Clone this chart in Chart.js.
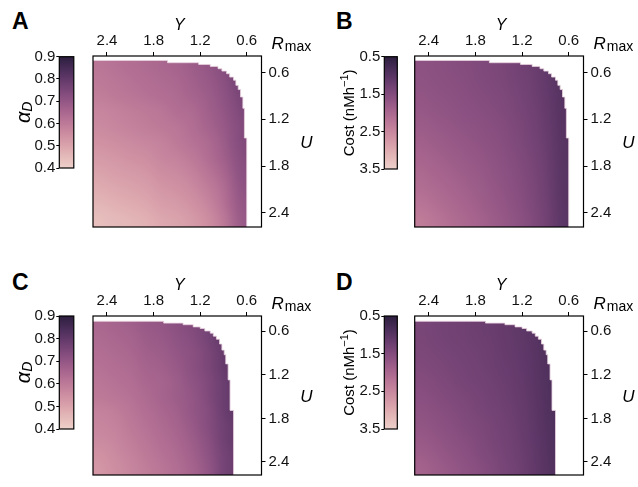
<!DOCTYPE html>
<html>
<head>
<meta charset="utf-8">
<script src="https://cdn.jsdelivr.net/npm/chart.js@4/dist/chart.umd.min.js"></script>
<style>
  body { margin: 0; background: #fff; }
  #wrap { position: relative; width: 638px; height: 487px; overflow: hidden; }
  canvas { position: absolute; }
  .lbl { position: absolute; font: bold 23px "Liberation Sans", Arial, sans-serif; line-height: 23px; color: #000; }
</style>
</head>
<body>
<div id="wrap">
  <div class="lbl" style="left:12px;top:10px">A</div>
  <div class="lbl" style="left:336px;top:10px">B</div>
  <div class="lbl" style="left:12px;top:271px">C</div>
  <div class="lbl" style="left:336px;top:271px">D</div>
  <canvas id="cbA" width="80" height="145" style="left:0;top:40px"></canvas>
  <canvas id="plotA" width="240" height="240" style="left:80px;top:0"></canvas>
  <canvas id="cbB" width="80" height="145" style="left:321px;top:40px"></canvas>
  <canvas id="plotB" width="237" height="240" style="left:401px;top:0"></canvas>
  <canvas id="cbC" width="80" height="145" style="left:0;top:300px"></canvas>
  <canvas id="plotC" width="240" height="227" style="left:80px;top:260px"></canvas>
  <canvas id="cbD" width="80" height="145" style="left:321px;top:300px"></canvas>
  <canvas id="plotD" width="237" height="227" style="left:401px;top:260px"></canvas>
</div>
<script>
// grid centres (Y across, left to right; U down, top to bottom)
const yCenters = [2.5, 2.3, 2.1, 1.9, 1.7, 1.5, 1.3, 1.1, 0.9, 0.7, 0.5];
const uCenters = [0.5, 0.7, 0.9, 1.1, 1.3, 1.5, 1.7, 1.9, 2.1, 2.3, 2.5];
const axisTicks = [0.6, 1.2, 1.8, 2.4];
const alphaTicks = [0.4, 0.5, 0.6, 0.7, 0.8, 0.9];
const costTicks = [0.5, 1.5, 2.5, 3.5];

// feasible region edge: for each Y (start of step) the smallest U with data
const edgeY_AB = [2.6, 1.62, 1.22, 1.07, 0.97, 0.92, 0.86, 0.82, 0.77, 0.74, 0.71, 0.68, 0.65, 0.63, 0.60, 0.40];
const edgeU_AB = [0.447, 0.476, 0.498, 0.523, 0.553, 0.583, 0.617, 0.66, 0.70, 0.766, 0.82, 0.915, 1.06, 1.44, 2.6, 2.6];
const edgeY_CD = [2.6, 1.67, 1.42, 1.29, 1.20, 1.14, 1.07, 1.03, 0.99, 0.95, 0.92, 0.89, 0.87, 0.84, 0.815, 0.77, 0.40];
const edgeU_CD = [0.463, 0.488, 0.51, 0.54, 0.562, 0.596, 0.626, 0.668, 0.71, 0.776, 0.86, 0.924, 1.05, 1.27, 1.69, 2.6, 2.6];

const alphaA = [
  [0.61, 0.62, 0.63, 0.64, 0.65, 0.66, 0.68, 0.70, 0.73, 0.76, 0.78],
  [0.60, 0.61, 0.62, 0.63, 0.64, 0.65, 0.67, 0.69, 0.72, 0.76, 0.78],
  [0.59, 0.60, 0.61, 0.62, 0.63, 0.64, 0.66, 0.68, 0.71, 0.75, 0.77],
  [0.57, 0.58, 0.59, 0.60, 0.61, 0.63, 0.64, 0.67, 0.70, 0.74, 0.76],
  [0.56, 0.57, 0.58, 0.59, 0.60, 0.61, 0.63, 0.66, 0.69, 0.73, 0.75],
  [0.54, 0.55, 0.56, 0.57, 0.58, 0.60, 0.62, 0.64, 0.68, 0.73, 0.75],
  [0.52, 0.53, 0.54, 0.55, 0.57, 0.58, 0.60, 0.63, 0.67, 0.72, 0.74],
  [0.50, 0.51, 0.52, 0.53, 0.55, 0.56, 0.58, 0.61, 0.65, 0.71, 0.73],
  [0.48, 0.49, 0.50, 0.51, 0.53, 0.54, 0.56, 0.59, 0.63, 0.70, 0.72],
  [0.46, 0.47, 0.48, 0.49, 0.51, 0.52, 0.54, 0.57, 0.62, 0.69, 0.71],
  [0.44, 0.45, 0.46, 0.47, 0.49, 0.50, 0.52, 0.55, 0.60, 0.68, 0.70]
];
const costB = [
  [1.62, 1.58, 1.54, 1.50, 1.45, 1.40, 1.33, 1.24, 1.12, 0.96, 0.88],
  [1.64, 1.60, 1.56, 1.52, 1.47, 1.42, 1.35, 1.26, 1.13, 0.97, 0.89],
  [1.68, 1.64, 1.60, 1.55, 1.50, 1.45, 1.38, 1.28, 1.15, 0.98, 0.90],
  [1.74, 1.69, 1.64, 1.59, 1.54, 1.48, 1.41, 1.31, 1.17, 0.99, 0.91],
  [1.81, 1.75, 1.70, 1.64, 1.58, 1.52, 1.44, 1.33, 1.19, 1.00, 0.92],
  [1.88, 1.82, 1.76, 1.70, 1.63, 1.56, 1.47, 1.36, 1.21, 1.01, 0.93],
  [1.96, 1.89, 1.82, 1.75, 1.68, 1.60, 1.50, 1.39, 1.23, 1.02, 0.94],
  [2.04, 1.97, 1.89, 1.81, 1.73, 1.64, 1.54, 1.42, 1.25, 1.03, 0.95],
  [2.13, 2.05, 1.96, 1.87, 1.78, 1.68, 1.57, 1.44, 1.27, 1.04, 0.96],
  [2.23, 2.13, 2.03, 1.93, 1.83, 1.72, 1.61, 1.47, 1.29, 1.05, 0.97],
  [2.34, 2.22, 2.11, 2.00, 1.89, 1.77, 1.65, 1.50, 1.31, 1.06, 0.98]
];
const alphaC = [
  [0.65, 0.66, 0.67, 0.69, 0.70, 0.72, 0.74, 0.76, 0.80, 0.83, 0.85],
  [0.64, 0.65, 0.66, 0.68, 0.69, 0.71, 0.73, 0.76, 0.80, 0.83, 0.85],
  [0.63, 0.64, 0.65, 0.67, 0.68, 0.70, 0.72, 0.75, 0.79, 0.82, 0.84],
  [0.62, 0.63, 0.64, 0.66, 0.67, 0.69, 0.72, 0.75, 0.79, 0.82, 0.84],
  [0.61, 0.62, 0.63, 0.65, 0.66, 0.68, 0.71, 0.74, 0.78, 0.81, 0.83],
  [0.60, 0.61, 0.62, 0.64, 0.66, 0.68, 0.70, 0.74, 0.78, 0.81, 0.83],
  [0.58, 0.59, 0.61, 0.63, 0.65, 0.67, 0.70, 0.73, 0.78, 0.81, 0.83],
  [0.57, 0.58, 0.60, 0.62, 0.64, 0.66, 0.69, 0.73, 0.77, 0.80, 0.82],
  [0.56, 0.57, 0.59, 0.61, 0.63, 0.65, 0.68, 0.72, 0.77, 0.80, 0.82],
  [0.54, 0.56, 0.58, 0.60, 0.62, 0.64, 0.67, 0.71, 0.76, 0.79, 0.81],
  [0.53, 0.55, 0.57, 0.59, 0.61, 0.63, 0.66, 0.70, 0.76, 0.79, 0.81]
];
const costD = [
  [1.38, 1.34, 1.30, 1.26, 1.22, 1.17, 1.11, 1.03, 0.90, 0.78, 0.72],
  [1.39, 1.35, 1.31, 1.27, 1.23, 1.18, 1.12, 1.04, 0.91, 0.79, 0.73],
  [1.42, 1.38, 1.34, 1.30, 1.25, 1.20, 1.13, 1.05, 0.92, 0.80, 0.74],
  [1.46, 1.42, 1.37, 1.32, 1.27, 1.22, 1.15, 1.06, 0.93, 0.81, 0.75],
  [1.51, 1.46, 1.41, 1.35, 1.30, 1.24, 1.17, 1.07, 0.94, 0.82, 0.76],
  [1.57, 1.51, 1.45, 1.39, 1.33, 1.26, 1.19, 1.09, 0.95, 0.83, 0.77],
  [1.63, 1.56, 1.50, 1.43, 1.36, 1.29, 1.21, 1.10, 0.96, 0.84, 0.78],
  [1.69, 1.62, 1.55, 1.47, 1.40, 1.32, 1.23, 1.12, 0.97, 0.85, 0.79],
  [1.76, 1.68, 1.60, 1.52, 1.43, 1.35, 1.25, 1.13, 0.98, 0.86, 0.80],
  [1.84, 1.75, 1.66, 1.57, 1.47, 1.38, 1.27, 1.15, 0.99, 0.87, 0.81],
  [1.92, 1.82, 1.72, 1.62, 1.52, 1.41, 1.30, 1.16, 1.00, 0.88, 0.82]
];

const FONT = '"Liberation Sans", Arial, sans-serif';
const normAlpha = v => (v - 0.4) / 0.5;
const normCost = v => (3.5 - v) / 3.0;

// seaborn-like cubehelix palette (light pink -> dark purple)
function cubehelix(x) {
    const a = 0.8 * x * (1 - x) / 2;
    const phi = 2 * Math.PI * 0.4 * x;
    const c = Math.cos(phi), s = Math.sin(phi);
    const rgb = [
        x + a * (-0.14861 * c + 1.78277 * s),
        x + a * (-0.29227 * c - 0.90649 * s),
        x + a * (1.97294 * c)
    ];
    return rgb.map(v => Math.round(255 * Math.min(1, Math.max(0, v))));
}
function cmap(t) {
    t = Math.min(1, Math.max(0, t));
    return cubehelix(0.85 - 0.7 * t);
}

const heatmapPlugin = {
    id: 'heatmap',
    beforeDatasetsDraw(chart, args, opts) {
        if (!opts.grid) return;
        const { ctx, chartArea: a, scales: { x, y } } = chart;
        const grid = opts.grid;
        const nr = grid.length, nc = grid[0].length;
        const off = document.createElement('canvas');
        off.width = nc; off.height = nr;
        const octx = off.getContext('2d');
        const img = octx.createImageData(nc, nr);
        grid.forEach((row, i) => row.forEach((v, j) => {
            const [r, g, b] = cmap(opts.norm(v));
            const k = 4 * (i * nc + j);
            img.data[k] = r; img.data[k + 1] = g; img.data[k + 2] = b; img.data[k + 3] = 255;
        }));
        octx.putImageData(img, 0, 0);
        const hx = Math.abs(yCenters[1] - yCenters[0]) / 2;
        const hy = Math.abs(uCenters[1] - uCenters[0]) / 2;
        const x0 = x.getPixelForValue(yCenters[0] + hx);
        const x1 = x.getPixelForValue(yCenters[nc - 1] - hx);
        const y0 = y.getPixelForValue(uCenters[0] - hy);
        const y1 = y.getPixelForValue(uCenters[nr - 1] + hy);
        ctx.save();
        ctx.beginPath();
        ctx.rect(a.left, a.top, a.right - a.left, a.bottom - a.top);
        ctx.clip();
        ctx.imageSmoothingEnabled = true;
        ctx.imageSmoothingQuality = 'high';
        ctx.drawImage(off, x0, y0, x1 - x0, y1 - y0);
        ctx.restore();
    },
    afterDraw(chart, args, opts) {
        if (!opts.grid) return;
        const { ctx, chartArea: a } = chart;
        ctx.save();
        ctx.strokeStyle = '#000';
        ctx.lineWidth = 1.2;
        ctx.strokeRect(a.left, a.top, a.right - a.left, a.bottom - a.top);
        ctx.fillStyle = '#000';
        ctx.textBaseline = 'alphabetic';
        ctx.textAlign = 'center';
        ctx.font = 'italic 16px ' + FONT;
        ctx.fillText('Y', (a.left + a.right) / 2 + 2, a.top - 26.5);
        ctx.font = 'italic 17px ' + FONT;
        ctx.fillText('U', a.right + 45, (a.top + a.bottom) / 2 + 6);
        ctx.textAlign = 'left';
        ctx.fillText('R', a.right + 10, a.top - 7);
        const rw = ctx.measureText('R').width;
        ctx.font = '14px ' + FONT;
        ctx.fillText('max', a.right + 11 + rw, a.top - 5.5);
        ctx.restore();
    }
};

const colorbarPlugin = {
    id: 'colorbar',
    beforeDatasetsDraw(chart, args, opts) {
        if (!opts.ticks) return;
        const { ctx, chartArea: a, scales: { y } } = chart;
        const lo = opts.ticks[0], hi = opts.ticks[opts.ticks.length - 1];
        const g = ctx.createLinearGradient(0, y.getPixelForValue(lo), 0, y.getPixelForValue(hi));
        for (let i = 0; i <= 24; i++) {
            const t = i / 24;
            const [r, gg, b] = cmap(opts.norm(lo + t * (hi - lo)));
            g.addColorStop(t, `rgb(${r},${gg},${b})`);
        }
        ctx.save();
        ctx.fillStyle = g;
        ctx.fillRect(a.left, a.top, a.right - a.left, a.bottom - a.top);
        ctx.restore();
    },
    afterDraw(chart, args, opts) {
        if (!opts.ticks) return;
        const { ctx, chartArea: a } = chart;
        ctx.save();
        ctx.strokeStyle = '#000';
        ctx.lineWidth = 1.2;
        ctx.strokeRect(a.left, a.top, a.right - a.left, a.bottom - a.top);
        ctx.translate(a.left - opts.titleOffset, (a.top + a.bottom) / 2);
        ctx.rotate(-Math.PI / 2);
        ctx.fillStyle = '#000';
        ctx.textBaseline = 'middle';
        ctx.textAlign = 'left';
        if (opts.kind === 'alpha') {
            ctx.font = 'italic 20px ' + FONT;
            const w1 = ctx.measureText('α').width;
            ctx.font = 'italic 14px ' + FONT;
            const w2 = ctx.measureText('D').width;
            let x0 = -(w1 + w2) / 2;
            ctx.font = 'italic 20px ' + FONT;
            ctx.fillText('α', x0, 0);
            ctx.font = 'italic 14px ' + FONT;
            ctx.fillText('D', x0 + w1, 4);
        } else {
            ctx.font = '15px ' + FONT;
            const p1 = 'Cost (nMh', p3 = ')';
            const w1 = ctx.measureText(p1).width, w3 = ctx.measureText(p3).width;
            ctx.font = '11px ' + FONT;
            const p2 = '−1';
            const w2 = ctx.measureText(p2).width;
            let x0 = -(w1 + w2 + w3) / 2;
            ctx.font = '15px ' + FONT;
            ctx.fillText(p1, x0, 0);
            ctx.font = '11px ' + FONT;
            ctx.fillText(p2, x0 + w1, -5);
            ctx.font = '15px ' + FONT;
            ctx.fillText(p3, x0 + w1 + w2, 0);
        }
        ctx.restore();
    }
};

Chart.register(heatmapPlugin, colorbarPlugin);

function tickFont() {
    return { family: FONT, size: 15 };
}

function makePlot(id, grid, norm, edgeY, edgeU, layout) {
    const edgeData = edgeY.map((v, i) => ({ x: v, y: edgeU[i] }));
    return new Chart(document.getElementById(id), {
        type: 'line',
        data: {
            datasets: [{
                data: edgeData,
                stepped: true,
                fill: 'end',
                backgroundColor: '#ffffff',
                borderColor: 'rgba(232, 210, 222, 1)',
                borderWidth: 0.8,
                pointRadius: 0
            }]
        },
        options: {
            responsive: false,
            animation: false,
            devicePixelRatio: 1,
            layout: { padding: { left: layout.left, top: 0, right: 0, bottom: layout.bottom } },
            plugins: {
                legend: { display: false },
                tooltip: { enabled: false },
                heatmap: { grid: grid, norm: norm }
            },
            scales: {
                x: {
                    type: 'linear', position: 'top', reverse: true, min: 0.41, max: 2.58,
                    afterBuildTicks: s => { s.ticks = axisTicks.map(v => ({ value: v })); },
                    afterFit: s => { s.height = 56; },
                    ticks: { font: tickFont(), color: '#111', padding: 2, maxRotation: 0, autoSkip: false,
                             callback: v => v.toFixed(1) },
                    grid: { display: true, drawOnChartArea: false, drawTicks: true, tickLength: 4, color: '#000', lineWidth: 1 },
                    border: { display: false }
                },
                y: {
                    type: 'linear', position: 'right', reverse: true, min: 0.39, max: 2.58,
                    afterBuildTicks: s => { s.ticks = axisTicks.map(v => ({ value: v })); },
                    afterFit: s => { s.width = layout.axisW; },
                    ticks: { font: tickFont(), color: '#111', padding: 3, autoSkip: false,
                             callback: v => v.toFixed(1) },
                    grid: { display: true, drawOnChartArea: false, drawTicks: true, tickLength: 4, color: '#000', lineWidth: 1 },
                    border: { display: false }
                }
            }
        }
    });
}

function makeColorbar(id, ticks, norm, kind, layout) {
    return new Chart(document.getElementById(id), {
        type: 'line',
        data: { datasets: [] },
        options: {
            responsive: false,
            animation: false,
            devicePixelRatio: 1,
            layout: { padding: { left: 0, top: layout.top, right: layout.right, bottom: layout.bottom } },
            plugins: {
                legend: { display: false },
                tooltip: { enabled: false },
                colorbar: { ticks: ticks, norm: norm, kind: kind, titleOffset: layout.titleOffset }
            },
            scales: {
                x: { type: 'linear', display: false, min: 0, max: 1 },
                y: {
                    type: 'linear', position: 'left',
                    reverse: kind !== 'alpha',
                    min: ticks[0], max: ticks[ticks.length - 1],
                    afterBuildTicks: s => { s.ticks = ticks.map(v => ({ value: v })); },
                    afterFit: s => { s.width = layout.axisW; },
                    ticks: { font: tickFont(), color: '#111', padding: 1, autoSkip: false,
                             callback: v => v.toFixed(1) },
                    grid: { display: true, drawOnChartArea: false, drawTicks: true, tickLength: 3, color: '#000', lineWidth: 1 },
                    border: { display: false }
                }
            }
        }
    });
}

makePlot('plotA', alphaA, normAlpha, edgeY_AB, edgeU_AB, { left: 13, bottom: 13, axisW: 58.5 });
makePlot('plotB', costB, normCost, edgeY_AB, edgeU_AB, { left: 13.7, bottom: 13, axisW: 54.5 });
makePlot('plotC', alphaC, normAlpha, edgeY_CD, edgeU_CD, { left: 13, bottom: 1, axisW: 58.5 });
makePlot('plotD', costD, normCost, edgeY_CD, edgeU_CD, { left: 13.7, bottom: 1, axisW: 54.5 });

makeColorbar('cbA', alphaTicks, normAlpha, 'alpha', { top: 16.7, bottom: 17, right: 6.2, axisW: 59.3, titleOffset: 35 });
makeColorbar('cbB', costTicks, normCost, 'cost', { top: 16.7, bottom: 16, right: 3.7, axisW: 63.3, titleOffset: 34 });
makeColorbar('cbC', alphaTicks, normAlpha, 'alpha', { top: 16, bottom: 16, right: 6.2, axisW: 59.3, titleOffset: 35 });
makeColorbar('cbD', costTicks, normCost, 'cost', { top: 16, bottom: 16, right: 3.7, axisW: 63.3, titleOffset: 34 });
</script>
</body>
</html>
